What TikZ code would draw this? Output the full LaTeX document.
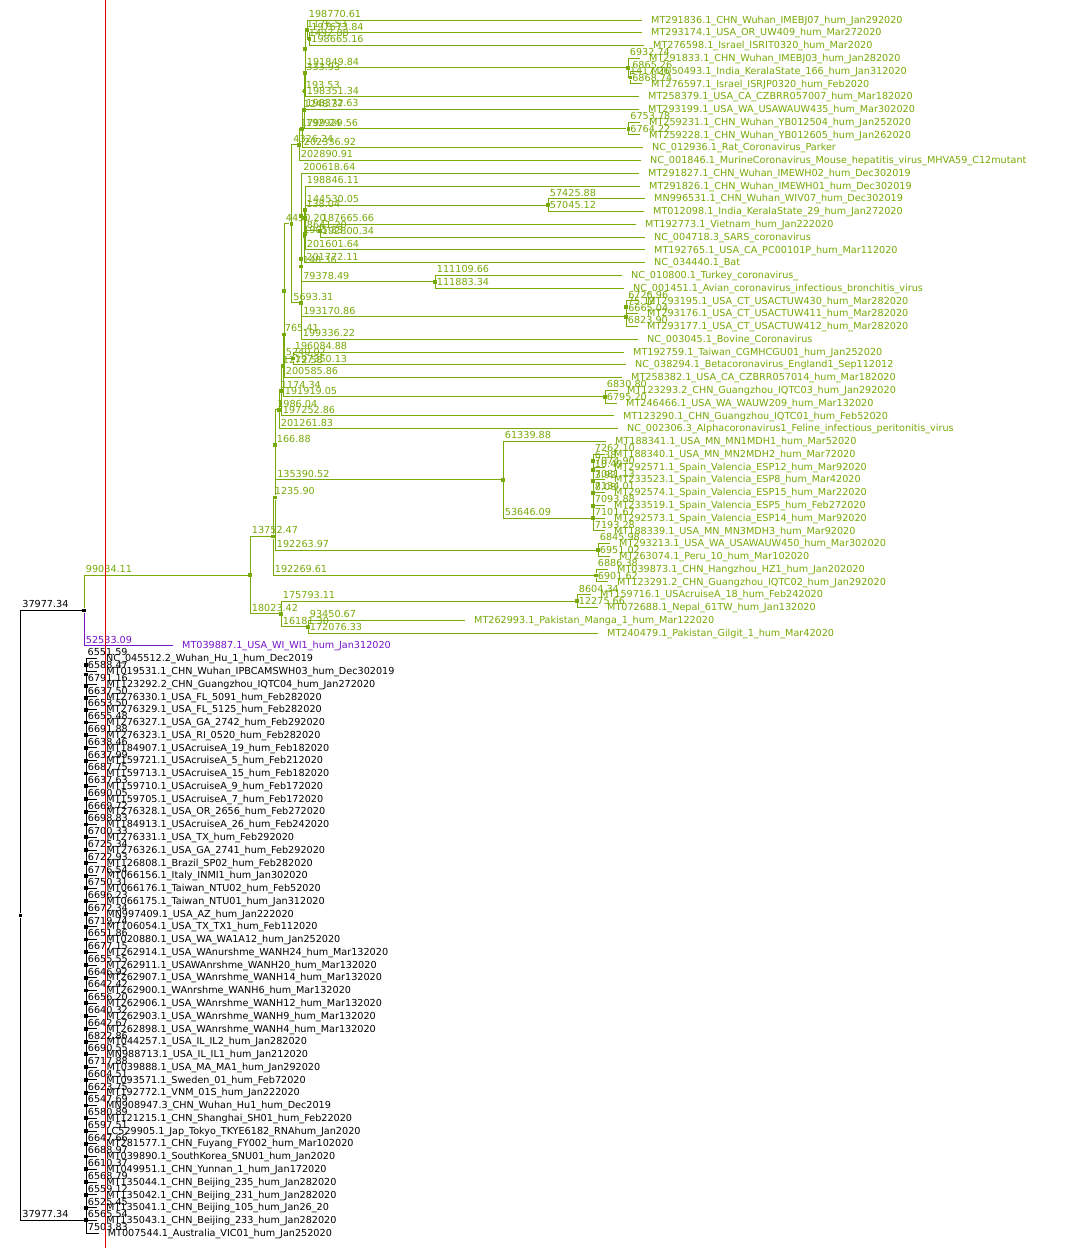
\documentclass[tikz,border=0pt]{standalone}
\usepackage{fontspec}
\setmainfont{DejaVu Sans}
\definecolor{tg}{RGB}{120,170,10}
\definecolor{tp}{RGB}{118,20,200}
\definecolor{tr}{RGB}{225,0,0}
\newcommand\lblfont{\fontsize{9.65}{10}\selectfont}
\tikzset{
  edge/.style={line width=0.9pt},
  sq/.style={rectangle, fill, inner sep=0pt, minimum size=3.8pt},
  lab/.style={pos=0.5, anchor=base west, inner sep=0pt, xshift=1.5pt, yshift=2.6pt, font=\lblfont},
  lt/.style={anchor=base west, inner sep=0pt, xshift=9pt, yshift=-3.2pt, font=\lblfont},
  guide/.style={tr, line width=0.9pt}
}
% leaf: name, x of branch end, row index, text
\newcommand\lf[4]{\coordinate (#1) at (#2,{20+(#3-1)*12.77}); \node[lt] at (#1) {#4};}
\begin{document}
\begin{tikzpicture}[x=1pt,y=-1pt]
\fill[white] (0,0) rectangle (1076,1248);
\useasboundingbox (0,0) rectangle (1076,1248);

% ---------- root and the two top-level nodes ----------
\node[sq] (R) at (20.5,915.5) {};
\node[sq] (T1) at (84,610.5) {};

% ---------- green clade ----------
\begin{scope}[color=tg]
\lf{L1}{642}{1}{MT291836.1\_CHN\_Wuhan\_IMEBJ07\_hum\_Jan292020}
\lf{L2}{642}{2}{MT293174.1\_USA\_OR\_UW409\_hum\_Mar272020}
\lf{L3}{644}{3}{MT276598.1\_Israel\_ISRIT0320\_hum\_Mar2020}
\lf{L4}{640}{4}{MT291833.1\_CHN\_Wuhan\_IMEBJ03\_hum\_Jan282020}
\lf{L5}{642}{5}{MT050493.1\_India\_KeralaState\_166\_hum\_Jan312020}
\lf{L6}{642}{6}{MT276597.1\_Israel\_ISRJP0320\_hum\_Feb2020}
\lf{L7}{639}{7}{MT258379.1\_USA\_CA\_CZBRR057007\_hum\_Mar182020}
\lf{L8}{639}{8}{MT293199.1\_USA\_WA\_USAWAUW435\_hum\_Mar302020}
\lf{L9}{640}{9}{MT259231.1\_CHN\_Wuhan\_YB012504\_hum\_Jan252020}
\lf{L10}{640}{10}{MT259228.1\_CHN\_Wuhan\_YB012605\_hum\_Jan262020}
\lf{L11}{643}{11}{NC\_012936.1\_Rat\_Coronavirus\_Parker}
\lf{L12}{641}{12}{NC\_001846.1\_MurineCoronavirus\_Mouse\_hepatitis\_virus\_MHVA59\_C12mutant}
\lf{L13}{639}{13}{MT291827.1\_CHN\_Wuhan\_IMEWH02\_hum\_Dec302019}
\lf{L14}{640}{14}{MT291826.1\_CHN\_Wuhan\_IMEWH01\_hum\_Dec302019}
\lf{L15}{645}{15}{MN996531.1\_CHN\_Wuhan\_WIV07\_hum\_Dec302019}
\lf{L16}{644}{16}{MT012098.1\_India\_KeralaState\_29\_hum\_Jan272020}
\lf{L17}{636}{17}{MT192773.1\_Vietnam\_hum\_Jan222020}
\lf{L18}{645}{18}{NC\_004718.3\_SARS\_coronavirus}
\lf{L19}{645}{19}{MT192765.1\_USA\_CA\_PC00101P\_hum\_Mar112020}
\lf{L20}{645}{20}{NC\_034440.1\_Bat}
\lf{L21}{622}{21}{NC\_010800.1\_Turkey\_coronavirus\_}
\lf{L22}{624}{22}{NC\_001451.1\_Avian\_coronavirus\_infectious\_bronchitis\_virus}
\lf{L23}{638}{23}{MT293195.1\_USA\_CT\_USACTUW430\_hum\_Mar282020}
\lf{L24}{638}{24}{MT293176.1\_USA\_CT\_USACTUW411\_hum\_Mar282020}
\lf{L25}{638}{25}{MT293177.1\_USA\_CT\_USACTUW412\_hum\_Mar282020}
\lf{L26}{638}{26}{NC\_003045.1\_Bovine\_Coronavirus}
\lf{L27}{624}{27}{MT192759.1\_Taiwan\_CGMHCGU01\_hum\_Jan252020}
\lf{L28}{626}{28}{NC\_038294.1\_Betacoronavirus\_England1\_Sep112012}
\lf{L29}{622}{29}{MT258382.1\_USA\_CA\_CZBRR057014\_hum\_Mar182020}
\lf{L30}{618}{30}{MT123293.2\_CHN\_Guangzhou\_IQTC03\_hum\_Jan292020}
\lf{L31}{617}{31}{MT246466.1\_USA\_WA\_WAUW209\_hum\_Mar132020}
\lf{L32}{614}{32}{MT123290.1\_CHN\_Guangzhou\_IQTC01\_hum\_Feb52020}
\lf{L33}{618}{33}{NC\_002306.3\_Alphacoronavirus1\_Feline\_infectious\_peritonitis\_virus}
\lf{L34}{606}{34}{MT188341.1\_USA\_MN\_MN1MDH1\_hum\_Mar52020}
\lf{L35}{605}{35}{MT188340.1\_USA\_MN\_MN2MDH2\_hum\_Mar72020}
\lf{L36}{605}{36}{MT292571.1\_Spain\_Valencia\_ESP12\_hum\_Mar92020}
\lf{L37}{605}{37}{MT233523.1\_Spain\_Valencia\_ESP8\_hum\_Mar42020}
\lf{L38}{605}{38}{MT292574.1\_Spain\_Valencia\_ESP15\_hum\_Mar22020}
\lf{L39}{605}{39}{MT233519.1\_Spain\_Valencia\_ESP5\_hum\_Feb272020}
\lf{L40}{605}{40}{MT292573.1\_Spain\_Valencia\_ESP14\_hum\_Mar92020}
\lf{L41}{605}{41}{MT188339.1\_USA\_MN\_MN3MDH3\_hum\_Mar92020}
\lf{L42}{610}{42}{MT293213.1\_USA\_WA\_USAWAUW450\_hum\_Mar302020}
\lf{L43}{610}{43}{MT263074.1\_Peru\_10\_hum\_Mar102020}
\lf{L44}{608}{44}{MT039873.1\_CHN\_Hangzhou\_HZ1\_hum\_Jan202020}
\lf{L45}{608}{45}{MT123291.2\_CHN\_Guangzhou\_IQTC02\_hum\_Jan292020}
\lf{L46}{591}{46}{MT159716.1\_USAcruiseA\_18\_hum\_Feb242020}
\lf{L47}{598}{47}{MT072688.1\_Nepal\_61TW\_hum\_Jan132020}
\lf{L48}{465}{48}{MT262993.1\_Pakistan\_Manga\_1\_hum\_Mar122020}
\lf{L49}{598}{49}{MT240479.1\_Pakistan\_Gilgit\_1\_hum\_Mar42020}

\node[sq] (A) at (250,575.2) {};
\node[sq] (B) at (273,536.5) {};
\node[sq] (C) at (275,497.4) {};
\node[sq] (D) at (281,613.8) {};
\node[sq] (E) at (308,626.6) {};
\node[sq] (H) at (577,601) {};
\node[sq] (I) at (596,575.5) {};
\node[sq] (J) at (275.3,444.8) {};
\node[sq] (K) at (503,479.8) {};
\node[sq] (LL) at (598,550) {};
\node[sq] (M) at (593,518.2) {};
\node[sq] (N1) at (593,505.7) {};
\node[sq] (N2) at (593,493.3) {};
\node[sq] (N3) at (593,481.3) {};
\node[sq] (N4) at (593,470.1) {};
\node[sq] (N5) at (593,460.6) {};
\node[sq] (O) at (279,409.7) {};
\node[sq] (P) at (281,390.7) {};
\node[sq] (Q) at (283,365.6) {};
\node[sq] (U) at (284,334.4) {};
\node[sq] (Y) at (284,291.1) {};
\node[sq] (V) at (293,358.4) {};
\node[sq] (Z) at (605,396.7) {};
\node[sq] (S1) at (291.5,223.8) {};
\node[sq] (AA) at (299,144.7) {};
\node[sq] (AB) at (301,302.9) {};
\node[sq] (AI) at (302,128.8) {};
\node[sq] (AJ) at (304,109.9) {};
\node[sq] (AK) at (628.5,128.6) {};
\node[sq] (AL) at (304.5,91.1) {};
\node[sq] (AM) at (305,72.7) {};
\node[sq] (AO) at (305,48.8) {};
\node[sq] (AP) at (307,29.6) {};
\node[sq] (AQ) at (309.5,39.2) {};
\node[sq] (AN) at (628,67.9) {};
\node[sq] (AR) at (630.4,77.5) {};
\node[sq] (X1) at (301.3,266.5) {};
\node[sq] (X3) at (301.3,216.1) {};
\node[sq] (X6) at (301.3,259) {};
\node[sq] (X7) at (304.5,236.3) {};
\node[sq] (X8) at (305,210) {};
\node[sq] (X11) at (305,234) {};
\node[sq] (X12) at (305,218) {};
\node[sq] (AS) at (548,205.2) {};
\node[sq] (AT) at (320,230.7) {};
\node[sq] (AC) at (435,281.8) {};
\node[sq] (AD) at (626,316.9) {};
\node[sq] (AU) at (626.3,307.3) {};

\draw[edge] (T1) |- node[lab]{99034.11} (A);
\draw[edge] (A) |- node[lab]{13752.47} (B);
\draw[edge] (A) |- node[lab]{18023.42} (D);
\draw[edge] (D) |- node[lab]{175793.11} (H);
\draw[edge] (D) |- node[lab]{16181.30} (E);
\draw[edge] (H) |- node[lab]{8604.34} (L46);
\draw[edge] (H) |- node[lab]{12275.66} (L47);
\draw[edge] (E) |- node[lab]{93450.67} (L48);
\draw[edge] (E) |- node[lab]{172076.33} (L49);
\draw[edge] (B) |- node[lab]{1235.90} (C);
\draw[edge] (B) |- node[lab]{192269.61} (I);
\draw[edge] (I) |- node[lab]{6886.38} (L44);
\draw[edge] (I) |- node[lab]{6901.62} (L45);
\draw[edge] (C) |- node[lab]{166.88} (J);
\draw[edge] (C) |- node[lab]{192263.97} (LL);
\draw[edge] (LL) |- node[lab]{6845.98} (L42);
\draw[edge] (LL) |- node[lab]{6951.02} (L43);
\draw[edge] (J) |- node[lab]{1986.04} (O);
\draw[edge] (J) |- node[lab]{135390.52} (K);
\draw[edge] (K) |- node[lab]{61339.88} (L34);
\draw[edge] (K) |- node[lab]{53646.09} (M);
\draw[edge] (M) |- (N1);
\draw[edge] (M) |- node[lab]{7193.28} (L41);
\draw[edge] (N1) |- node[lab]{8.08} (N2);
\draw[edge] (N1) |- node[lab]{7101.67} (L40);
\draw[edge] (N2) |- node[lab]{3.92} (N3);
\draw[edge] (N2) |- node[lab]{7093.88} (L39);
\draw[edge] (N3) |- node[lab]{10.49} (N4);
\draw[edge] (N3) |- node[lab]{7134.01} (L38);
\draw[edge] (N4) |- node[lab]{6.38} (N5);
\draw[edge] (N4) |- node[lab]{7081.13} (L37);
\draw[edge] (N5) |- node[lab]{7262.10} (L35);
\draw[edge] (N5) |- node[lab]{7074.90} (L36);
\draw[edge] (O) |- node[lab]{1174.34} (P);
\draw[edge] (O) |- node[lab]{201261.83} (L33);
\draw[edge] (P) |- node[lab]{1272.58} (Q);
\draw[edge] (P) |- node[lab]{197252.86} (L32);
\draw[edge] (Q) |- node[lab]{765.41} (U);
\draw[edge] (Q) |- node[lab]{191919.05} (Z);
\draw[edge] (Z) |- node[lab]{6830.80} (L30);
\draw[edge] (Z) |- node[lab]{6795.20} (L31);
\draw[edge] (U) |- (Y);
\draw[edge] (U) |- node[lab]{200585.86} (L29);
\draw[edge] (Y) |- node[lab]{4450.20} (S1);
\draw[edge] (Y) |- node[lab]{5240.02} (V);
\draw[edge] (V) |- node[lab]{196084.88} (L27);
\draw[edge] (V) |- node[lab]{197350.13} (L28);
\draw[edge] (S1) |- node[lab]{4326.24} (AA);
\draw[edge] (S1) |- node[lab]{5693.31} (AB);
\draw[edge] (AA) |- node[lab]{1799.24} (AI);
\draw[edge] (AA) |- node[lab]{202890.91} (L12);
\draw[edge] (AI) |- node[lab]{1248.37} (AJ);
\draw[edge] (AI) |- node[lab]{202336.92} (L11);
\draw[edge] (AJ) |- node[lab]{193.53} (AL);
\draw[edge] (AJ) |- node[lab]{192929.56} (AK);
\draw[edge] (AK) |- node[lab]{6753.78} (L9);
\draw[edge] (AK) |- node[lab]{6764.22} (L10);
\draw[edge] (AL) |- node[lab]{333.93} (AM);
\draw[edge] (AL) |- node[lab]{198372.63} (L8);
\draw[edge] (AM) |- (AO);
\draw[edge] (AM) |- node[lab]{198351.34} (L7);
\draw[edge] (AO) |- node[lab]{1176.53} (AP);
\draw[edge] (AO) |- node[lab]{191849.84} (AN);
\draw[edge] (AP) |- node[lab]{198770.61} (L1);
\draw[edge] (AP) |- node[lab]{1492.88} (AQ);
\draw[edge] (AQ) |- node[lab]{197673.84} (L2);
\draw[edge] (AQ) |- node[lab]{198665.16} (L3);
\draw[edge] (AN) |- node[lab]{6932.74} (L4);
\draw[edge] (AN) |- node[lab]{1417.26} (AR);
\draw[edge] (AR) |- node[lab]{6865.26} (L5);
\draw[edge] (AR) |- node[lab]{6868.74} (L6);
\draw[edge] (AB) |- node[lab]{148.36} (X1);
\draw[edge] (AB) |- node[lab]{199336.22} (L26);
\draw[edge] (X1) |- (X3);
\draw[edge] (X1) |- node[lab]{193170.86} (AD);
\draw[edge] (AD) |- node[lab]{75.12} (AU);
\draw[edge] (AD) |- node[lab]{6823.90} (L25);
\draw[edge] (AU) |- node[lab]{6726.96} (L23);
\draw[edge] (AU) |- node[lab]{6665.04} (L24);
\draw[edge] (X3) |- node[lab]{200618.64} (L13);
\draw[edge] (X3) |- (X6);
\draw[edge] (X6) |- node[lab]{1905.33} (X7);
\draw[edge] (X6) |- node[lab]{79378.49} (AC);
\draw[edge] (AC) |- node[lab]{111109.66} (L21);
\draw[edge] (AC) |- node[lab]{111883.34} (L22);
\draw[edge] (X7) |- node[lab]{138.04} (X8);
\draw[edge] (X7) |- node[lab]{201772.11} (L20);
\draw[edge] (X8) |- node[lab]{198846.11} (L14);
\draw[edge] (X8) |- (X11);
\draw[edge] (X11) |- (X12);
\draw[edge] (X11) |- node[lab]{201601.64} (L19);
\draw[edge] (X12) |- node[lab]{144530.05} (AS);
\draw[edge] (X12) |- node[lab]{8641.20} (AT);
\draw[edge] (AS) |- node[lab]{57425.88} (L15);
\draw[edge] (AS) |- node[lab]{57045.12} (L16);
\draw[edge] (AT) |- node[lab]{187665.66} (L17);
\draw[edge] (AT) |- node[lab]{192800.34} (L18);
\end{scope}

% ---------- purple leaf ----------
\begin{scope}[color=tp]
\lf{L50}{173}{50}{MT039887.1\_USA\_WI\_WI1\_hum\_Jan312020}
\draw[edge] (T1) |- node[lab]{52533.09} (L50);
\end{scope}

% ---------- black clade: a ladder of short internal branches ----------
\coordinate (b51) at (86+6551.59/593,658.5);
\node[lt] at (b51) {NC\_045512.2\_Wuhan\_Hu\_1\_hum\_Dec2019};
\xdef\cy{658.5}\xdef\prev{b51}
\foreach \k/\bl/\txt in {
 52/6588.47/{MT019531.1\_CHN\_Wuhan\_IPBCAMSWH03\_hum\_Dec302019},
 53/6791.16/{MT123292.2\_CHN\_Guangzhou\_IQTC04\_hum\_Jan272020},
 54/6637.50/{MT276330.1\_USA\_FL\_5091\_hum\_Feb282020},
 55/6653.50/{MT276329.1\_USA\_FL\_5125\_hum\_Feb282020},
 56/6655.48/{MT276327.1\_USA\_GA\_2742\_hum\_Feb292020},
 57/6691.88/{MT276323.1\_USA\_RI\_0520\_hum\_Feb282020},
 58/6638.46/{MT184907.1\_USAcruiseA\_19\_hum\_Feb182020},
 59/6637.99/{MT159721.1\_USAcruiseA\_5\_hum\_Feb212020},
 60/6687.75/{MT159713.1\_USAcruiseA\_15\_hum\_Feb182020},
 61/6637.63/{MT159710.1\_USAcruiseA\_9\_hum\_Feb172020},
 62/6690.05/{MT159705.1\_USAcruiseA\_7\_hum\_Feb172020},
 63/6669.72/{MT276328.1\_USA\_OR\_2656\_hum\_Feb272020},
 64/6698.83/{MT184913.1\_USAcruiseA\_26\_hum\_Feb242020},
 65/6700.33/{MT276331.1\_USA\_TX\_hum\_Feb292020},
 66/6725.34/{MT276326.1\_USA\_GA\_2741\_hum\_Feb292020},
 67/6722.93/{MT126808.1\_Brazil\_SP02\_hum\_Feb282020},
 68/6776.54/{MT066156.1\_Italy\_INMI1\_hum\_Jan302020},
 69/6750.31/{MT066176.1\_Taiwan\_NTU02\_hum\_Feb52020},
 70/6696.23/{MT066175.1\_Taiwan\_NTU01\_hum\_Jan312020},
 71/6672.34/{MN997409.1\_USA\_AZ\_hum\_Jan222020},
 72/6719.74/{MT106054.1\_USA\_TX\_TX1\_hum\_Feb112020},
 73/6651.86/{MT020880.1\_USA\_WA\_WA1A12\_hum\_Jan252020},
 74/6677.15/{MT262914.1\_USA\_WAnurshme\_WANH24\_hum\_Mar132020},
 75/6655.55/{MT262911.1\_USAWAnrshme\_WANH20\_hum\_Mar132020},
 76/6646.92/{MT262907.1\_USA\_WAnrshme\_WANH14\_hum\_Mar132020},
 77/6642.42/{MT262900.1\_WAnrshme\_WANH6\_hum\_Mar132020},
 78/6656.20/{MT262906.1\_USA\_WAnrshme\_WANH12\_hum\_Mar132020},
 79/6640.32/{MT262903.1\_USA\_WAnrshme\_WANH9\_hum\_Mar132020},
 80/6642.67/{MT262898.1\_USA\_WAnrshme\_WANH4\_hum\_Mar132020},
 81/6822.86/{MT044257.1\_USA\_IL\_IL2\_hum\_Jan282020},
 82/6690.55/{MN988713.1\_USA\_IL\_IL1\_hum\_Jan212020},
 83/6717.88/{MT039888.1\_USA\_MA\_MA1\_hum\_Jan292020},
 84/6604.51/{MT093571.1\_Sweden\_01\_hum\_Feb72020},
 85/6623.75/{MT192772.1\_VNM\_01S\_hum\_Jan222020},
 86/6547.69/{MN908947.3\_CHN\_Wuhan\_Hu1\_hum\_Dec2019},
 87/6580.89/{MT121215.1\_CHN\_Shanghai\_SH01\_hum\_Feb22020},
 88/6597.51/{LC529905.1\_Jap\_Tokyo\_TKYE6182\_RNAhum\_Jan2020},
 89/6647.66/{MT281577.1\_CHN\_Fuyang\_FY002\_hum\_Mar102020},
 90/6688.97/{MT039890.1\_SouthKorea\_SNU01\_hum\_Jan2020},
 91/6610.37/{MT049951.1\_CHN\_Yunnan\_1\_hum\_Jan172020},
 92/6568.79/{MT135044.1\_CHN\_Beijing\_235\_hum\_Jan282020},
 93/6559.12/{MT135042.1\_CHN\_Beijing\_231\_hum\_Jan282020},
 94/6525.45/{MT135041.1\_CHN\_Beijing\_105\_hum\_Jan26\_20},
 95/6565.54/{MT135043.1\_CHN\_Beijing\_233\_hum\_Jan282020},
 96/7503.83/{MT007544.1\_Australia\_VIC01\_hum\_Jan252020}}{
  \pgfmathsetmacro\ly{20+(\k-1)*12.77}
  \pgfmathsetmacro\ny{(\cy+\ly)/2}
  \pgfmathsetmacro\lx{86+\bl/593}
  \coordinate (b\k) at (\lx,\ly);
  \node[lt] at (b\k) {\txt};
  \node[sq] (n\k) at (86,\ny) {};
  \draw[edge] (n\k) |- (\prev);
  \draw[edge] (n\k) |- node[lab]{\bl} (b\k);
  \xdef\cy{\ny}\xdef\prev{n\k}
}
\path (n52) |- node[lab]{6551.59} (b51);

\draw[edge] (R) |- node[lab]{37977.34} (T1);
\draw[edge] (R) |- node[lab]{37977.34} (n96);

% ---------- red guide line ----------
\coordinate (gtop) at (105,0);
\coordinate (gbot) at (105,1248);
\draw[guide] (gtop) -- (gbot);
\end{tikzpicture}
\end{document}
